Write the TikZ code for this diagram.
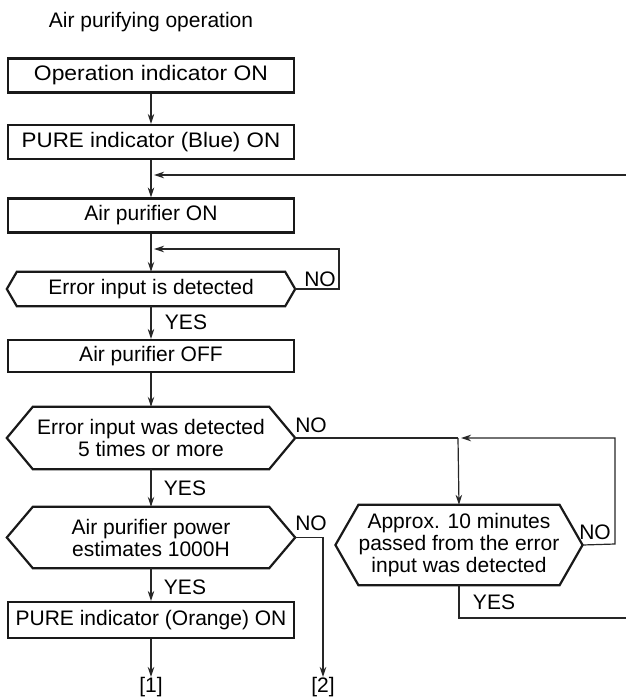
\documentclass[tikz,border=0pt]{standalone}
\usepackage{fontspec}
\usepackage{graphicx}
\setmainfont{Liberation Sans}
\usetikzlibrary{arrows.meta}
\tikzset{
  boxline/.style={draw=black!90, line width=2.2pt},
  pbox/.style={boxline, rectangle, minimum width=286pt, minimum height=34pt, inner sep=0pt, font=\txt},
  hexnode/.style={rectangle, inner sep=0pt, align=center, font=\txt},
  conn/.style={draw=black!85, line width=1.2pt},
  arr/.style={conn, -{Stealth[length=10pt,width=6.5pt]}},
  lbl/.style={inner sep=0pt, font=\txt},
}
\newcommand{\txt}{\fontsize{21}{22}\selectfont}
\newcommand{\hexdraw}[2]{%
  \draw[boxline] (#1.north west) -- (#1.north east) -- ([xshift=#2pt]#1.east) -- (#1.south east) -- (#1.south west) -- ([xshift=-#2pt]#1.west) -- cycle;
  \coordinate (#1-r) at ([xshift=#2pt]#1.east);
  \coordinate (#1-l) at ([xshift=-#2pt]#1.west);}
\begin{document}
\begin{tikzpicture}[x=1pt,y=-1pt]
\useasboundingbox (0,0) rectangle (626,697);
\node[lbl, anchor=base] (title) at (151,27) {Air purifying operation};

\node[pbox] (b1) at (151,75.5) {\scalebox{1.09}[1]{Operation indicator ON}};
\node[pbox] (b2) at (151,142) {\scalebox{1.065}[1]{PURE indicator (Blue) ON}};
\node[pbox] (b3) at (151,215.5) {Air purifier ON};
\node[hexnode, minimum width=268pt, minimum height=34pt] (d1) at (151,289) {Error input is detected};
\hexdraw{d1}{10}
\node[pbox, minimum height=32pt] (b4) at (151,356) {Air purifier OFF};
\node[hexnode, minimum width=236pt, minimum height=62pt] (d2) at (151,438) {Error input was detected\\5 times or more};
\hexdraw{d2}{26}
\node[hexnode, minimum width=236pt, minimum height=61pt] (d4) at (151,537.5) {Air purifier power\\estimates 1000H};
\hexdraw{d4}{26}
\node[pbox, minimum height=36pt] (b5) at (151,620) {PURE indicator (Orange) ON};
\node[hexnode, minimum width=192pt, minimum height=80pt] (d3) at (459,545) {Approx. 10 minutes\\passed from the error\\input was detected};
\hexdraw{d3}{23}

\node[lbl] (o1) at (151,687) {[1]};
\node[lbl] (o2) at (323,687) {[2]};

% junctions and edge points
\coordinate (j1) at (151,175);
\coordinate (j2) at (151,249);
\coordinate (j3) at (458,438);
\coordinate (e1) at (626,175);
\coordinate (e2) at (626,618);
\coordinate (k1) at (339,289);
\coordinate (k2) at (615,544);

% connectors
\draw[arr] (b1.south) -- (b2.north);
\draw[arr] (b2.south) -- (b3.north);
\draw[arr, shorten >=3pt] (e1) -- (j1);
\draw[arr] (b3.south) -- (d1.north);
\draw[arr, shorten >=3pt] (d1-r) -- (k1) |- (j2);
\draw[arr] (d1.south) -- (b4.north);
\draw[arr] (b4.south) -- (d2.north);
\draw[conn] (d2-r) -- (j3);
\draw[arr] (j3) -- (d3.north);
\draw[arr, shorten >=3pt] (d3-r) -- (k2) |- (j3);
\draw[conn] (d3.south) |- (e2);
\draw[arr] (d2.south) -- (d4.north);
\draw[arr] (d4.south) -- (b5.north);
\draw[arr] (b5.south) -- (o1.north);
\draw[arr] (d4-r) -| (o2.north);

% labels
\node[lbl] (n1) at (320,279) {NO};
\node[lbl] (y1) at (186,322) {YES};
\node[lbl] (n2) at (311,425) {NO};
\node[lbl] (y2) at (185,488) {YES};
\node[lbl] (n4) at (311,523) {NO};
\node[lbl] (y4) at (185,587) {YES};
\node[lbl] (n3) at (595,532) {NO};
\node[lbl] (y3) at (494,602) {YES};
\end{tikzpicture}
\end{document}
